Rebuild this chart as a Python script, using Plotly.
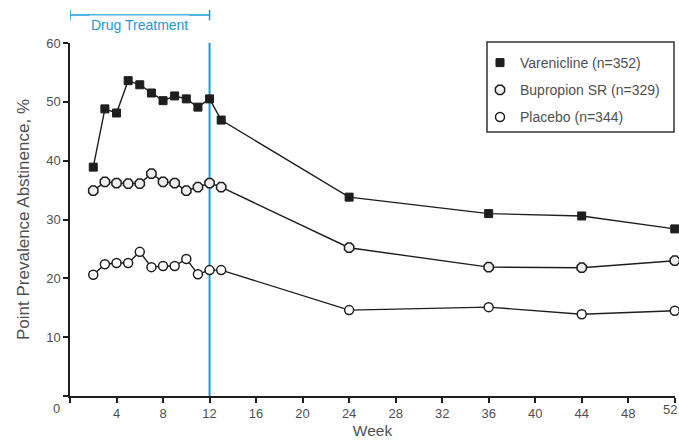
import plotly.graph_objects as go

weeks = [2, 3, 4, 5, 6, 7, 8, 9, 10, 11, 12, 13, 24, 36, 44, 52]
varenicline = [38.9, 48.8, 48.1, 53.6, 52.9, 51.5, 50.2, 51.0, 50.5, 49.1, 50.5, 46.9, 33.8, 31.0, 30.6, 28.4]
bupropion = [34.9, 36.4, 36.2, 36.1, 36.1, 37.8, 36.4, 36.2, 34.9, 35.5, 36.2, 35.5, 25.2, 21.9, 21.8, 23.0]
placebo = [20.6, 22.4, 22.6, 22.6, 24.5, 21.9, 22.1, 22.1, 23.3, 20.7, 21.4, 21.4, 14.6, 15.1, 13.9, 14.5]
names = ["Varenicline (n=352)", "Bupropion SR (n=329)", "Placebo (n=344)"]
x_ticks = [0, 4, 8, 12, 16, 20, 24, 28, 32, 36, 40, 44, 48, 52]
y_ticks = [10, 20, 30, 40, 50, 60]
treat_end = 12

FONT = "Liberation Sans, Arial, sans-serif"
BLUE = "#1a9ad8"
GREY = "#505050"
INK = "#1e1e1e"

series = [varenicline, bupropion, placebo]
markers = [
    dict(symbol="square", size=8, color=INK, line=dict(color=INK, width=1)),
    dict(symbol="octagon", size=10, color="#efefef", line=dict(color=INK, width=1.5)),
    dict(symbol="circle", size=9, color="white", line=dict(color=INK, width=1.5)),
]

fig = go.Figure()
for nm, vals, mk in zip(names, series, markers):
    fig.add_trace(go.Scatter(x=weeks, y=vals, name=nm, mode="lines+markers",
                             line=dict(color=INK, width=1.4), marker=mk,
                             cliponaxis=False, showlegend=False))
for nm, mk in zip(names, markers):
    fig.add_trace(go.Scatter(x=[None], y=[None], name=nm, mode="markers", marker=mk,
                             legendgroup=nm, showlegend=True))

# treatment end line
fig.add_shape(type="line", x0=treat_end, x1=treat_end, y0=0, y1=60, xref="x", yref="y",
              line=dict(color=BLUE, width=2), layer="below")
# drug treatment bracket
by = 1.079
fig.add_shape(type="line", x0=0, x1=treat_end, y0=by, y1=by, xref="x", yref="paper",
              line=dict(color=BLUE, width=1.5))
for xv in [0, treat_end]:
    fig.add_shape(type="line", x0=xv, x1=xv, y0=by - 0.015, y1=by + 0.015, xref="x", yref="paper",
                  line=dict(color=BLUE, width=1.5))
fig.add_annotation(x=treat_end / 2, y=by, xref="x", yref="paper", text="Drug Treatment",
                   showarrow=False, font=dict(color=BLUE, size=14, family=FONT),
                   bgcolor="white", borderpad=1)
# origin label
fig.add_annotation(x=-0.0215, y=-0.034, xref="paper", yref="paper", text="0", showarrow=False,
                   font=dict(color=GREY, size=13, family=FONT), xanchor="center", yanchor="middle")
# last x tick label kept inside the page
fig.add_annotation(x=(678 - 70) / 605, y=-0.0155, xref="paper", yref="paper", text=str(x_ticks[-1]),
                   showarrow=False, font=dict(color=GREY, size=13, family=FONT),
                   xanchor="right", yanchor="top", borderpad=0)
# legend frame
fig.add_shape(type="rect", xref="paper", yref="paper",
              x0=(487 - 70) / 605, x1=(674 - 70) / 605,
              y0=(396 - 132) / 353, y1=(396 - 42) / 353,
              line=dict(color="#333", width=1.5), fillcolor="rgba(0,0,0,0)")

fig.update_layout(
    width=679, height=448,
    margin=dict(l=70, r=4, t=43, b=52, autoexpand=False),
    paper_bgcolor="white", plot_bgcolor="white",
    font=dict(family=FONT, color=GREY, size=13),
    showlegend=True,
    legend=dict(x=(480 - 70) / 605, y=(396 - 47) / 353, xanchor="left", yanchor="top",
                borderwidth=0, bgcolor="rgba(0,0,0,0)",
                font=dict(size=14, color=GREY, family=FONT),
                itemwidth=30, tracegroupgap=6),
    xaxis=dict(range=[0, 52.02], tickvals=x_ticks,
               ticktext=["" if v in (0, x_ticks[-1]) else str(v) for v in x_ticks],
               showline=True, linecolor=INK, linewidth=1.5, ticks="outside", ticklen=5,
               tickcolor=INK, tickwidth=1.5, showgrid=False, zeroline=False,
               tickfont=dict(size=13), automargin=False,
               title=dict(text="Week", standoff=5, font=dict(size=15.5, color=GREY))),
    yaxis=dict(range=[0, 60], tickvals=[0] + y_ticks, ticktext=[""] + [str(v) for v in y_ticks],
               showline=True, linecolor=INK, linewidth=1.5, ticks="outside", ticklen=5,
               tickcolor=INK, tickwidth=1.5, showgrid=False, zeroline=False,
               tickfont=dict(size=13), automargin=False,
               title=dict(text="Point Prevalence Abstinence, %", standoff=12, font=dict(size=17, color=GREY))),
)

fig.write_html("out.html")
